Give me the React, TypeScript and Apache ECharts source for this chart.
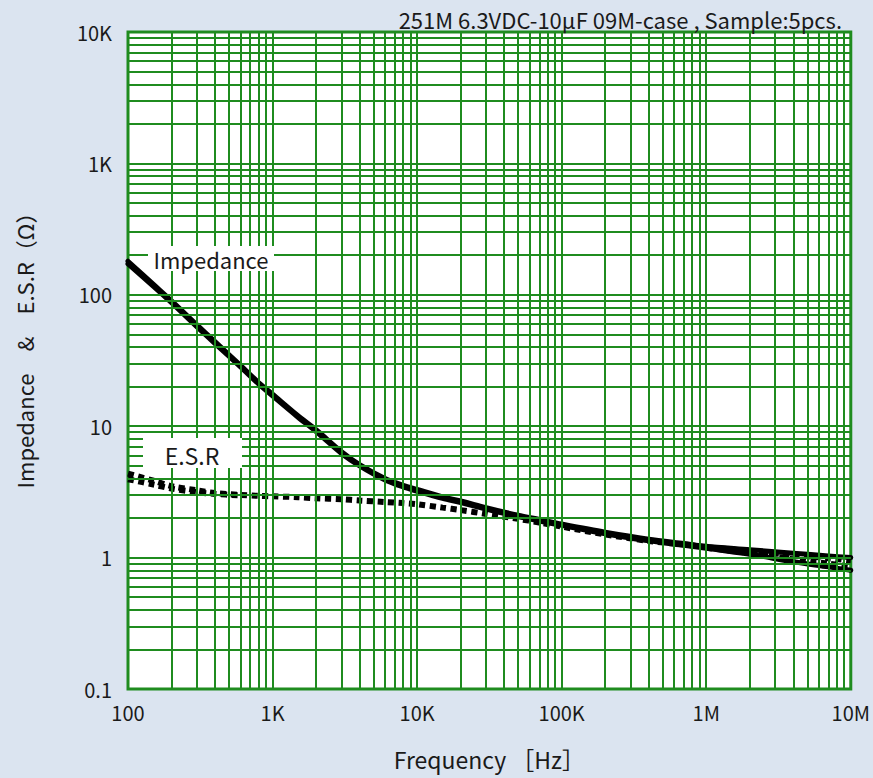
import React, { useEffect, useRef } from "react";
import * as echarts from "echarts";

const frequencies = [100, 150, 200, 300, 400, 600, 800, 1000, 1500, 2000, 3000, 4000, 6000, 8000, 10000, 15000, 20000, 30000, 50000, 70000, 100000, 200000, 400000, 700000, 1000000, 2000000, 4000000, 7000000, 10000000];

const impedanceUpper = [180, 120, 90, 59, 44, 29, 21.5, 17.5, 12, 9.4, 6.4, 5.1, 4.0, 3.55, 3.3, 2.9, 2.7, 2.4, 2.1, 1.95, 1.8, 1.56, 1.38, 1.28, 1.22, 1.15, 1.08, 1.03, 1.0];
const impedanceLower = [172, 116, 87, 57, 42.5, 28.3, 21, 17, 11.7, 9.1, 6.2, 5.0, 3.9, 3.45, 3.2, 2.82, 2.62, 2.34, 2.05, 1.9, 1.76, 1.52, 1.34, 1.24, 1.18, 1.06, 0.93, 0.85, 0.8];
const esrMain = [4.35, 3.85, 3.5, 3.25, 3.1, 3.0, 2.95, 2.93, 2.88, 2.83, 2.78, 2.72, 2.65, 2.6, 2.55, 2.4, 2.3, 2.15, 1.97, 1.85, 1.72, 1.5, 1.34, 1.26, 1.2, 1.12, 1.05, 0.99, 0.95];

const esrLowSpreadFrequencies = [100, 150, 200, 300, 400, 600];
const esrLowSpread = [3.95, 3.6, 3.35, 3.15, 3.05, 2.98];
const esrHighSpreadFrequencies = [1000000, 2000000, 4000000, 7000000, 10000000];
const esrHighSpread = [1.19, 1.08, 0.97, 0.9, 0.85];

const xDecades = [100, 1000, 10000, 100000, 1000000, 10000000];
const xTickLabels = ["100", "1K", "10K", "100K", "1M", "10M"];
const yDecades = [0.1, 1, 10, 100, 1000, 10000];
const yTickLabels = ["0.1", "1", "10", "100", "1K", "10K"];
const gridMultipliers = [1, 2, 3, 4, 5, 6, 7, 8, 9];

const titleText = "251M 6.3VDC-10μF 09M-case , Sample:5pcs.";
const xAxisName = "Frequency ［Hz］";
const yAxisName = "Impedance　&　E.S.R（Ω）";
const GREEN = "#1f8c1f";
const TEXT = "#1a1a1a";
const FONT = "'Noto Sans CJK JP', 'Noto Sans', sans-serif";

function gridValues(decades: number[]) {
  const out: number[] = [];
  decades.forEach((d, i) => {
    if (i === decades.length - 1) return;
    gridMultipliers.forEach((m) => {
      if (i === 0 && m === 1) return;
      out.push(d * m);
    });
  });
  return out;
}

function labelFor(v: number, decades: number[], labels: string[]) {
  const e = Math.log10(v);
  const idx = decades.findIndex((d) => Math.abs(Math.log10(d) - e) < 0.01);
  return idx >= 0 ? labels[idx] : "";
}

export default function App() {
  const ref = useRef<HTMLDivElement>(null);
  useEffect(() => {
    if (!ref.current) return;
    const chart = echarts.init(ref.current, undefined, { renderer: "svg" });
    const pair = (xs: number[], ys: number[]) => xs.map((f, i) => [f, ys[i]]);
    const solid = { color: "#000", width: 5, type: "solid" as const, cap: "round" as const, join: "round" as const };
    const dotted = { color: "#000", width: 6, type: [6, 4.5], cap: "butt" as const };
    const line = (name: string, data: number[][], style: any) => ({
      type: "line",
      name,
      data,
      showSymbol: false,
      smooth: 0.3,
      lineStyle: style,
      z: 3,
      silent: true,
    });
    chart.setOption({
      animation: false,
      backgroundColor: "#dbe4f0",
      textStyle: { fontFamily: FONT },
      title: {
        text: titleText,
        right: 26,
        top: 3,
        textStyle: { fontSize: 22, fontWeight: "normal", color: TEXT, fontFamily: FONT },
      },
      grid: {
        left: 128,
        top: 32,
        right: 21,
        bottom: 89,
        show: true,
        backgroundColor: "#ffffff",
        borderColor: GREEN,
        borderWidth: 3,
      },
      xAxis: {
        type: "log",
        logBase: 10,
        min: 100,
        max: 10000000,
        splitNumber: 5,
        name: xAxisName,
        nameLocation: "middle",
        nameGap: 58,
        nameTextStyle: { fontSize: 23, color: TEXT, fontFamily: FONT },
        axisLine: { show: false },
        axisTick: { show: false },
        splitLine: { show: false },
        axisLabel: {
          margin: 13,
          fontSize: 20,
          color: TEXT,
          fontFamily: FONT,
          formatter: (v: number) => labelFor(v, xDecades, xTickLabels),
        },
      },
      yAxis: {
        type: "log",
        logBase: 10,
        min: 0.1,
        max: 10000,
        splitNumber: 5,
        axisLine: { show: false },
        axisTick: { show: false },
        splitLine: { show: false },
        axisLabel: {
          margin: 16,
          fontSize: 20,
          color: TEXT,
          fontFamily: FONT,
          formatter: (v: number) => labelFor(v, yDecades, yTickLabels),
        },
      },
      series: [
        {
          type: "line",
          name: "grid",
          data: [],
          z: 1,
          silent: true,
          markLine: {
            silent: true,
            symbol: ["none", "none"],
            label: { show: false },
            lineStyle: { color: GREEN, width: 2, type: "solid" },
            emphasis: { disabled: true },
            data: [
              ...gridValues(xDecades).map((v) => ({ xAxis: v })),
              ...gridValues(yDecades).map((v) => ({ yAxis: v })),
            ],
          },
        },
        line("Impedance 1", pair(frequencies, impedanceUpper), solid),
        line("Impedance 2", pair(frequencies, impedanceLower), solid),
        line("E.S.R", pair(frequencies, esrMain), dotted),
        line("E.S.R low", pair(esrLowSpreadFrequencies, esrLowSpread), dotted),
        line("E.S.R high", pair(esrHighSpreadFrequencies, esrHighSpread), dotted),
      ],
      graphic: [
        { type: "rect", z: 10, shape: { x: 148, y: 246, width: 126, height: 25 }, style: { fill: "#fff" } },
        { type: "text", z: 11, x: 211, y: 259, style: { text: "Impedance", font: `22px ${FONT}`, fill: TEXT, align: "center", verticalAlign: "middle" } },
        { type: "rect", z: 10, shape: { x: 143, y: 438, width: 99, height: 30 }, style: { fill: "#fff" } },
        { type: "text", z: 11, x: 192, y: 455, style: { text: "E.S.R", font: `23px ${FONT}`, fill: TEXT, align: "center", verticalAlign: "middle" } },
        { type: "text", z: 11, x: 24, y: 345, rotation: Math.PI / 2, style: { text: yAxisName, font: `22px ${FONT}`, fill: TEXT, align: "center", verticalAlign: "middle" } },
      ],
    });
    return () => chart.dispose();
  }, []);
  return <div ref={ref} style={{ position: "fixed", left: 0, top: 0, width: 873, height: 778 }} />;
}
